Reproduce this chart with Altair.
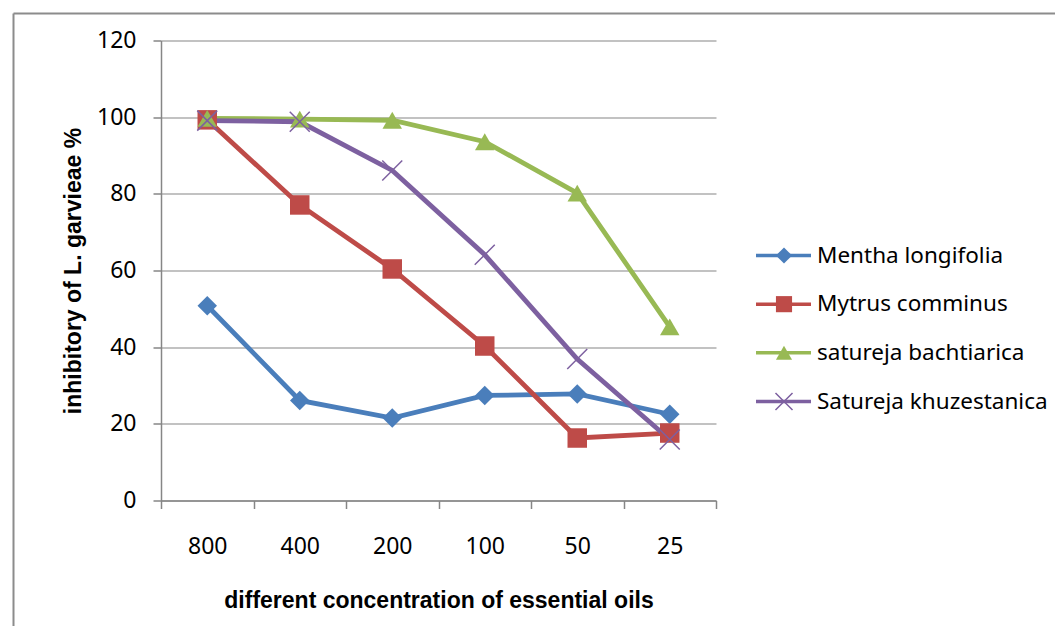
import altair as alt
import pandas as pd

concentrations = ['800', '400', '200', '100', '50', '25']
series_names = ['Mentha longifolia', 'Mytrus comminus', 'satureja bachtiarica', 'Satureja khuzestanica']
mentha = [50.8, 26.1, 21.5, 27.4, 27.8, 22.5]
mytrus = [99.3, 77.1, 60.4, 40.3, 16.3, 17.6]
bachtiarica = [99.7, 99.5, 99.2, 93.6, 80.2, 45.3]
khuzestanica = [99.1, 98.8, 86.1, 64.1, 36.9, 15.9]
y_ticks = [0, 20, 40, 60, 80, 100, 120]

colors = ['#4A7EBB', '#BE4B48', '#98B954', '#7D60A0']
X_PATH = 'M-1,-1L1,1M-1,1L1,-1'
shapes = ['diamond', 'square', 'triangle-up', X_PATH]

rows = []
for name, vals in zip(series_names, [mentha, mytrus, bachtiarica, khuzestanica]):
    for i, (c, v) in enumerate(zip(concentrations, vals)):
        rows.append({'conc': c, 'series': name, 'value': v, 'idx': i})
df = pd.DataFrame(rows)
leg_df = pd.DataFrame({'series': series_names})

GRAY = '#868686'
LABEL_FONT = 'Noto Sans'
TITLE_FONT = 'Liberation Sans'

color_enc = alt.Color('series:N', scale=alt.Scale(domain=series_names, range=colors), legend=None)
shape_enc = alt.Shape('series:N', scale=alt.Scale(domain=series_names, range=shapes), legend=None)

x_enc = alt.X(
    'conc:N', sort=concentrations, bandPosition=0.5,
    scale=alt.Scale(type='band', domain=concentrations, paddingInner=0, paddingOuter=0),
    axis=alt.Axis(
        title='different concentration of essential oils', tickBand='extent',
        labelAngle=0, labelFont=LABEL_FONT, labelFontSize=23, labelColor='#000',
        labelBaseline='alphabetic', labelPadding=45,
        tickSize=8, tickColor=GRAY, tickWidth=1.5, domainColor=GRAY, domainWidth=1.5,
        grid=False,
        titleFont=TITLE_FONT, titleFontSize=23, titleFontWeight='bold', titleColor='#000',
        titleX=277.5, titleY=107, titleAlign='center', titleBaseline='alphabetic',
    ),
)
y_enc = alt.Y(
    'value:Q', scale=alt.Scale(domain=[0, 120], nice=False, zero=True),
    axis=alt.Axis(
        values=y_ticks, title='inhibitory of L. garvieae %', grid=True,
        gridColor=GRAY, gridWidth=1.2, domainColor=GRAY, domainWidth=1.5,
        tickColor=GRAY, tickWidth=1.5, tickSize=8,
        labelFont=LABEL_FONT, labelFontSize=23, labelColor='#000', labelPadding=17,
        titleFont=TITLE_FONT, titleFontSize=23, titleFontWeight='bold', titleColor='#000',
        titleX=-81, titleY=230, titleAlign='center', titleBaseline='alphabetic', titleAngle=270,
    ),
)

lines = alt.Chart().mark_line(strokeWidth=4.8).encode(
    x=x_enc, y=y_enc, color=color_enc, order=alt.Order('idx:Q'))
pts_filled = alt.Chart().mark_point(filled=True, size=380, opacity=1).encode(
    x=x_enc, y=y_enc, color=color_enc, shape=shape_enc
).transform_filter(alt.datum.series != series_names[3])
pts_x = alt.Chart().mark_point(filled=False, size=400, strokeWidth=1.5, opacity=1).encode(
    x=x_enc, y=y_enc, color=color_enc, shape=shape_enc
).transform_filter(alt.datum.series == series_names[3])
main = alt.layer(lines, pts_filled, pts_x, data=df)

leg_y = alt.Y('series:N', sort=series_names,
              scale=alt.Scale(type='point', domain=series_names, range=[215, 361], padding=0),
              axis=None)
leg_rule = alt.Chart().mark_rule(strokeWidth=3.5).encode(
    x=alt.value(595), x2=alt.value(650), y=leg_y, color=color_enc)
leg_pts = alt.Chart().mark_point(filled=True, size=260, opacity=1).encode(
    x=alt.value(623), y=leg_y, color=color_enc, shape=shape_enc
).transform_filter(alt.datum.series != series_names[3])
leg_x = alt.Chart().mark_point(filled=False, size=290, strokeWidth=1.5, opacity=1).encode(
    x=alt.value(623), y=leg_y, color=color_enc, shape=shape_enc
).transform_filter(alt.datum.series == series_names[3])
leg_text = alt.Chart().mark_text(align='left', baseline='middle', font=LABEL_FONT,
                                 fontSize=22.5, color='#000').encode(
    x=alt.value(656), y=leg_y, text='series:N')
legend = alt.layer(leg_rule, leg_pts, leg_x, leg_text, data=leg_df)

border_df = pd.DataFrame({'k': [0]})
border_top = alt.Chart(border_df).mark_rule(color='#8c8c8c', strokeWidth=2).encode(
    x=alt.value(-147.5), x2=alt.value(1000), y=alt.value(-27))
border_left = alt.Chart(border_df).mark_rule(color='#8c8c8c', strokeWidth=2).encode(
    x=alt.value(-147.5), y=alt.value(-27), y2=alt.value(700))

chart = alt.layer(border_top, border_left, main, legend).resolve_scale(
    y='independent'
).properties(
    width=555, height=460,
    padding={'left': 153, 'top': 32.5, 'right': 339, 'bottom': 125},
    autosize=alt.AutoSizeParams(type='none'),
    background='white',
).configure_view(stroke=None)

chart.save('out.html', embed_options={'renderer': 'svg', 'actions': False})
